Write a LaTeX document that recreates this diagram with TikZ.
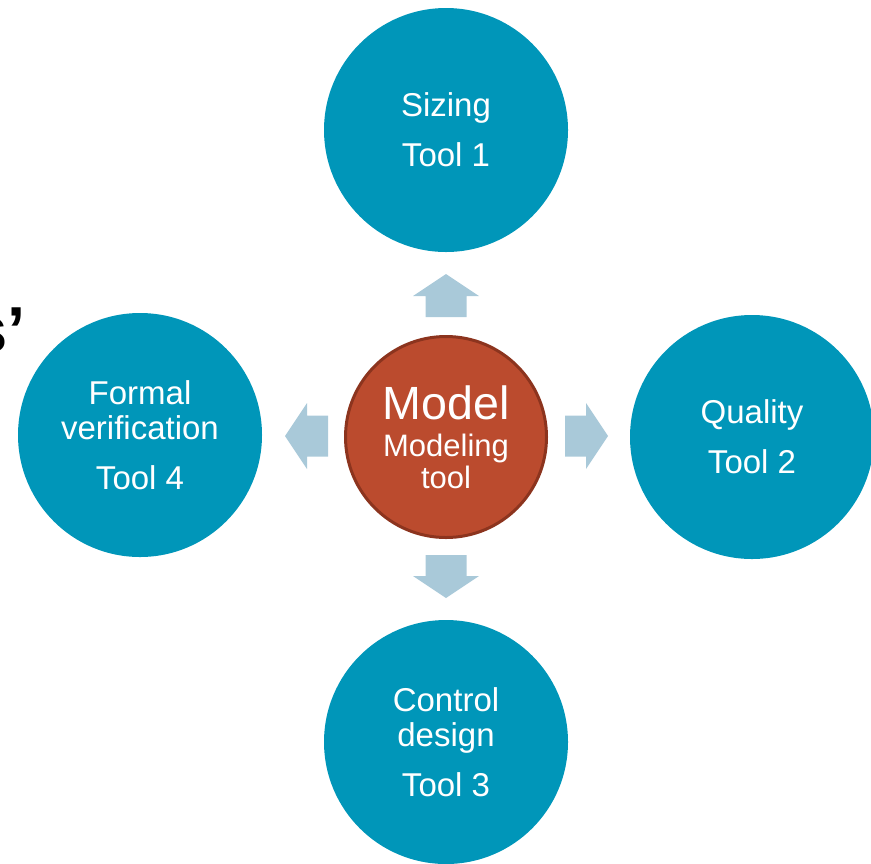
\documentclass[tikz,border=0pt]{standalone}
\usepackage{fontspec}
\setmainfont{Liberation Sans}
\definecolor{toolblue}{RGB}{0,150,185}
\definecolor{modelred}{RGB}{187,75,46}
\definecolor{modeledge}{RGB}{140,52,30}
\definecolor{flowblue}{RGB}{169,201,217}
\begin{document}
\begin{tikzpicture}[x=0.5pt, y=-0.5pt,
    tool/.style={circle, fill=toolblue, minimum size=122pt, inner sep=0pt,
        text=white, align=center, font=\fontsize{16.5}{17.5}\selectfont},
    core/.style={circle, fill=modelred, draw=modeledge, line width=1.5pt,
        minimum size=100.5pt, inner sep=0pt, text=white, align=center,
        font=\fontsize{15.5}{16}\selectfont},
    flow/.style={fill=flowblue}]
    \useasboundingbox (0,0) rectangle (871,863);

    % Bout de titre coupé
    \node[anchor=base west, inner sep=0pt, font=\bfseries\fontsize{32.5}{34}\selectfont]
        (cut) at (-29,352) {s’};

    % Outils autour
    \node[tool] (sizing) at (446,130) {Sizing\\[7.5pt]Tool 1};
    \node[tool] (quality) at (752,437) {Quality\\[7.5pt]Tool 2};
    \node[tool] (control) at (446,742) {Control\\design\\[7.5pt]Tool 3};
    \node[tool] (formal) at (140,435) {Formal\\verification\\[7.5pt]Tool 4};

    % Modèle au centre
    \node[core] (model) at (446,437)
        {{\fontsize{23.3}{24}\selectfont Model}\\[2.5pt]Modeling\\tool};

    % Flèches pleines
    \foreach \x/\y/\r in {446/317/90, 565/436/0, 446/555/-90, 328/436/180}
        \fill[flow, shift={(\x,\y)}, rotate=\r]
            (0,-20.5) -- (21,-20.5) -- (21,-33) -- (43,0)
            -- (21,33) -- (21,20.5) -- (0,20.5) -- cycle;
\end{tikzpicture}
\end{document}
